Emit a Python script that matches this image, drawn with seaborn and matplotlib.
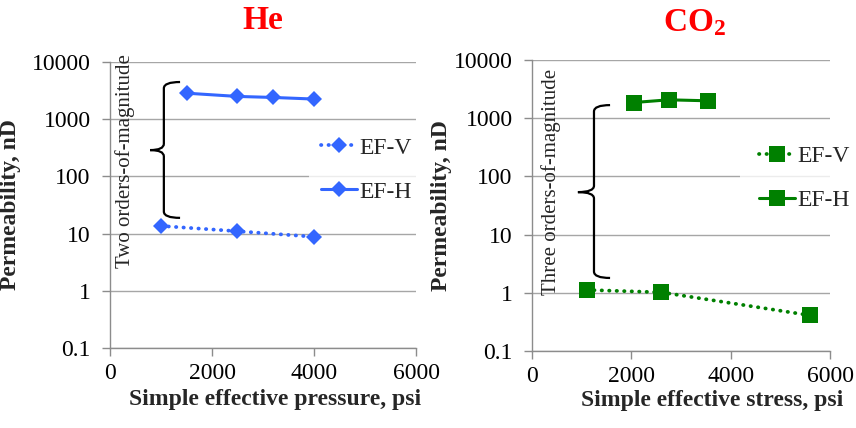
import numpy as np
import pandas as pd
import matplotlib
matplotlib.use("Agg")
import matplotlib.pyplot as plt
from matplotlib.path import Path
from matplotlib.patches import PathPatch
import seaborn as sns

# ---------------- data ----------------
he_v_x = [1000, 2500, 4000]
he_v_y = [13.6, 11.0, 8.8]
he_h_x = [1500, 2500, 3200, 4000]
he_h_y = [2850, 2500, 2400, 2250]

co2_v_x = [1100, 2600, 5600]
co2_v_y = [1.12, 1.02, 0.41]
co2_h_x = [2050, 2750, 3550]
co2_h_y = [1860, 2070, 1990]

series_labels = ["EF-V", "EF-H"]
y_ticks = [0.1, 1, 10, 100, 1000, 10000]
y_tick_labels = ["0.1", "1", "10", "100", "1000", "10000"]
x_ticks = [0, 2000, 4000, 6000]
x_tick_labels = ["0", "2000", "4000", "6000"]
titles = ["He", r"$\mathbf{CO_2}$"]
x_labels = ["Simple effective pressure, psi", "Simple effective stress, psi"]
y_label = "Permeability, nD"
notes = ["Two orders-of-magnitude", "Three orders-of-magnitude"]

BLUE = "#3366FF"
GREEN = "#008000"
GRID = "#A6A6A6"
SPINE = "#8C8C8C"

sns.set_theme(style="white")
plt.rcParams["font.family"] = ["Liberation Serif", "DejaVu Serif"]
plt.rcParams["mathtext.fontset"] = "custom"
plt.rcParams["mathtext.rm"] = "Liberation Serif"
plt.rcParams["mathtext.bf"] = "Liberation Serif:bold"

fig = plt.figure(figsize=(8.56, 4.28), dpi=100)
ax1 = fig.add_axes([110 / 856, 80 / 428, 306 / 856, 286 / 428])
ax2 = fig.add_axes([532 / 856, 77 / 428, 298 / 856, 291 / 428])


def draw_series(ax, x, y, color, marker, ms, dotted, label):
    df = pd.DataFrame({"x": x, "y": y})
    kw = dict(color=color, marker=marker, markersize=ms, markeredgewidth=0,
              linewidth=2.2, label=label, ax=ax, zorder=4)
    if dotted:
        kw["linewidth"] = 2.7
        kw["linestyle"] = (0, (0.1, 1.9))
        kw["dash_capstyle"] = "round"
    sns.lineplot(data=df, x="x", y="y", **kw)


def brace(ax, xv, xt, xm, yt, yb, ym, r=0.022):
    verts = [
        (xt, yt), (xv, yt), (xv, yt - r),
        (xv, ym + r),
        (xv, ym), (xm, ym),
        (xv, ym), (xv, ym - r),
        (xv, yb + r),
        (xv, yb), (xt, yb),
    ]
    codes = [Path.MOVETO, Path.CURVE3, Path.CURVE3, Path.LINETO,
             Path.CURVE3, Path.CURVE3, Path.CURVE3, Path.CURVE3,
             Path.LINETO, Path.CURVE3, Path.CURVE3]
    p = PathPatch(Path(verts, codes), transform=ax.transAxes, fill=False,
                  edgecolor="black", linewidth=1.6, clip_on=False, zorder=5)
    ax.add_patch(p)


def style_axes(ax):
    ax.set_yscale("log")
    ax.set_ylim(0.1, 10000)
    ax.set_xlim(0, 6000)
    ax.set_yticks(y_ticks)
    ax.set_yticklabels(y_tick_labels)
    ax.minorticks_off()
    ax.set_xticks(x_ticks)
    ax.set_xticklabels(x_tick_labels)
    ax.tick_params(axis="both", which="major", labelsize=17, direction="out",
                   length=6, width=1, color=SPINE, labelcolor="black", left=True, bottom=True)
    ax.tick_params(axis="y", pad=8)
    ax.tick_params(axis="x", pad=5)
    ax.grid(axis="y", color=GRID, linewidth=1)
    ax.grid(axis="x", visible=False)
    for s in ["top", "right"]:
        ax.spines[s].set_visible(False)
    for s in ["left", "bottom"]:
        ax.spines[s].set_color(SPINE)
        ax.spines[s].set_linewidth(1)
    ax.set_facecolor("white")


leg_kw = dict(bbox_transform=fig.transFigure, frameon=True, fontsize=17,
              handlelength=1.55, handletextpad=0.1, labelspacing=0.95,
              borderaxespad=0, fancybox=False)

# ---------- left panel ----------
draw_series(ax1, he_v_x, he_v_y, BLUE, "D", 8.5, True, series_labels[0])
draw_series(ax1, he_h_x, he_h_y, BLUE, "D", 8.5, False, series_labels[1])
style_axes(ax1)
ax1.set_xlabel(x_labels[0], fontsize=17, fontweight="bold")
ax1.xaxis.set_label_coords(0.539, -0.145)
ax1.xaxis.label.set_va("top")
ax1.set_ylabel(y_label, fontsize=17, fontweight="bold")
ax1.yaxis.set_label_coords(-0.29, 0.5)
ax1.set_title(titles[0], color="#FF0000", fontsize=24, fontweight="bold",
              x=0.5, y=1.115, pad=0)
brace(ax1, 0.176, 0.229, 0.131, 0.930, 0.455, 0.692)
ax1.text(0.049, 0.654, notes[0], transform=ax1.transAxes, rotation=90,
         ha="center", va="center", fontsize=15, zorder=6)
leg1 = ax1.legend(loc="center left", bbox_to_anchor=(309 / 856, 0.603),
                  borderpad=0.5, **leg_kw)
leg1.get_frame().set_facecolor("white")
leg1.get_frame().set_edgecolor("none")
leg1.set_zorder(3)

# ---------- right panel ----------
draw_series(ax2, co2_v_x, co2_v_y, GREEN, "s", 11.5, True, series_labels[0])
draw_series(ax2, co2_h_x, co2_h_y, GREEN, "s", 11.5, False, series_labels[1])
style_axes(ax2)
ax2.set_xlabel(x_labels[1], fontsize=17, fontweight="bold")
ax2.xaxis.set_label_coords(0.604, -0.135)
ax2.xaxis.label.set_va("top")
ax2.set_ylabel(y_label, fontsize=17, fontweight="bold")
ax2.yaxis.set_label_coords(-0.27, 0.5)
ax2.set_title(titles[1], color="#FF0000", fontsize=24, fontweight="bold",
              x=0.547, y=1.10, pad=0)
brace(ax2, 0.208, 0.262, 0.154, 0.845, 0.251, 0.546)
ax2.text(0.064, 0.581, notes[1], transform=ax2.transAxes, rotation=90,
         ha="center", va="center", fontsize=15, zorder=6)
leg2 = ax2.legend(loc="center left", bbox_to_anchor=(740 / 856, 0.584),
                  borderpad=0.8, **leg_kw)
leg2.get_frame().set_facecolor("white")
leg2.get_frame().set_edgecolor("none")
leg2.set_zorder(3)

fig.savefig("out.png", dpi=100, facecolor="white")
